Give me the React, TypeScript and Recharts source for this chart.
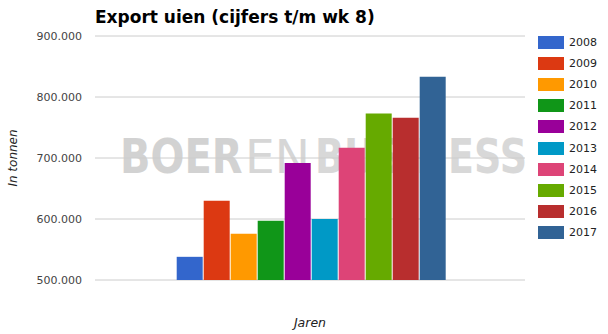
import React from "react";
import { Bar, BarChart, CartesianGrid, Legend, XAxis, YAxis } from "recharts";

const years = ['2008', '2009', '2010', '2011', '2012', '2013', '2014', '2015', '2016', '2017'];
const exportValues = [538000, 630000, 576000, 597000, 692000, 600000, 717000, 773000, 766000, 833000];
const COLORS = ['#3366cc', '#dc3912', '#ff9900', '#109618', '#990099', '#0099c6', '#dd4477', '#66aa00', '#b82e2e', '#316395'];
const yTicks = [500000, 600000, 700000, 800000, 900000];

const FONT = '"DejaVu Sans", Verdana, sans-serif';

const row: Record<string, string | number> = { name: 'Export' };
years.forEach((y, i) => { row[y] = exportValues[i]; });
const data = [row];

const formatTick = (v: number) => String(v).replace(/\B(?=(\d{3})+(?!\d))/g, '.');

const LegendContent = ({ payload }: any) => (
    <div style={{ width: 83, paddingLeft: 13, boxSizing: 'border-box', fontFamily: FONT, fontSize: 11, color: '#222' }}>
        {(payload || []).map((p: any) => (
            <div key={p.value} style={{ height: 21.1, display: 'flex', alignItems: 'center' }}>
                <span style={{ width: 26, height: 13, background: p.color, display: 'inline-block', marginRight: 5 }} />
                <span>{p.value}</span>
            </div>
        ))}
    </div>
);

const YLabel = ({ viewBox }: any) => {
    const cy = viewBox.y + viewBox.height / 2;
    return (
        <text x={13} y={cy} transform={`rotate(-90 13 ${cy})`} textAnchor="middle" dominantBaseline="central"
            style={{ fontFamily: FONT, fontSize: 12, fontStyle: 'italic', fill: '#222' }}>
            In tonnen
        </text>
    );
};

const XLabel = ({ viewBox }: any) => (
    <text x={viewBox.x + viewBox.width / 2} y={327} textAnchor="middle"
        style={{ fontFamily: FONT, fontSize: 12.5, fontStyle: 'italic', fill: '#222' }}>
        Jaren
    </text>
);

// watermark behind the plot (grid lines show over it, bars cover it)
const Watermark = () => (
    <g style={{ fontFamily: FONT }}>
        <text transform="translate(120 173) scale(1 1.2)" fontSize={40} fontWeight="bold" fill="#d2d2d2">BOER</text>
        <text transform="translate(245 173)" fontSize={47} fontWeight="normal" fill="#d6d6d6">EN</text>
        <text transform="translate(315 173) scale(1 1.25)" fontSize={38} fontWeight="bold" fill="#d8d8d8">BUSINESS</text>
    </g>
);

export default function App() {
    return (
        <div style={{ position: 'absolute', left: 0, top: 0, width: 608, height: 334, background: '#fff' }}>
            <svg width={608} height={334} style={{ position: 'absolute', left: 0, top: 0 }}>
                <text x={95} y={23} style={{ fontFamily: FONT, fontSize: 17, fontWeight: 'bold', fill: '#000' }}>
                    Export uien (cijfers t/m wk 8)
                </text>
                <Watermark />
            </svg>
            <div style={{ position: 'absolute', left: 0, top: 0 }}>
                <BarChart width={608} height={334} data={data} margin={{ top: 36, right: 0, bottom: 0, left: 0 }}
                    barCategoryGap="19%" barGap={1}>
                    <CartesianGrid vertical={false} stroke="#cccccc" />
                    <XAxis dataKey="name" tick={false} axisLine={false} tickLine={false} height={54}
                        label={<XLabel />} />
                    <YAxis width={95} domain={[500000, 900000]} ticks={yTicks} tickFormatter={formatTick}
                        axisLine={false} tickLine={false} tickSize={0} tickMargin={13}
                        tick={{ fill: '#444', fontSize: 11, fontFamily: FONT }}
                        label={<YLabel />} />
                    <Legend layout="vertical" align="right" verticalAlign="top" content={<LegendContent />}
                        wrapperStyle={{ top: 32 }} />
                    {years.map((y, i) => (
                        <Bar key={y} dataKey={y} name={y} fill={COLORS[i]} isAnimationActive={false} />
                    ))}
                </BarChart>
            </div>
        </div>
    );
}
